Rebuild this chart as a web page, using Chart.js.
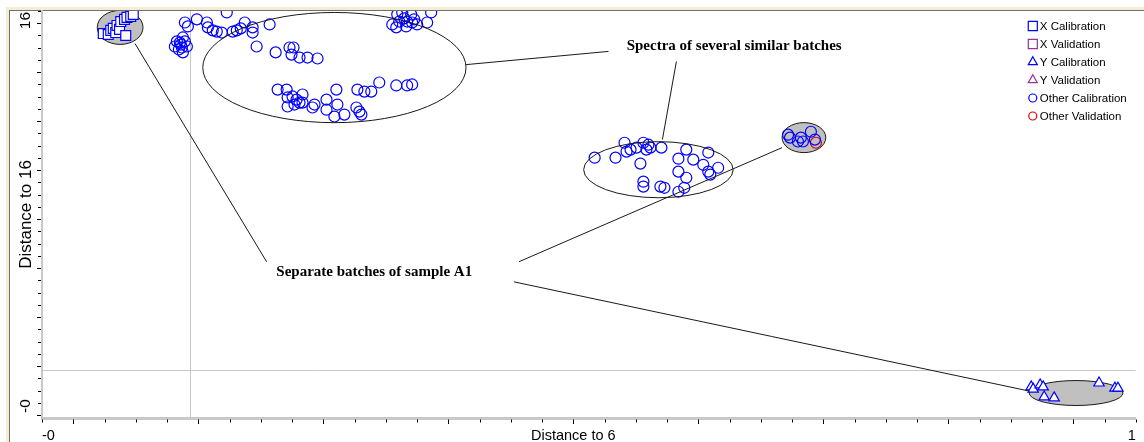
<!DOCTYPE html>
<html>
<head>
<meta charset="utf-8">
<style>
  html, body { margin: 0; padding: 0; background: #fff; overflow: hidden; }
  canvas { display: block; }
</style>
</head>
<body>
<canvas id="chart" width="1144" height="442"></canvas>
<script src="https://cdn.jsdelivr.net/npm/chart.js"></script>
<script>
// --- data ---
const xCalibration = [
  [0.024, 15.58], [0.028, 15.54], [0.030, 15.71], [0.032, 15.79], [0.034, 15.62],
  [0.035, 15.91], [0.037, 15.75], [0.038, 16.07], [0.041, 16.16], [0.043, 16.24],
  [0.046, 16.28], [0.048, 16.36], [0.042, 15.50]
];
const xValidation = [];
const yCalibration = [
  [0.7663, 1.15], [0.7679, 1.06], [0.7735, 1.23], [0.7759, 1.15], [0.7767, 0.74],
  [0.7847, 0.70], [0.8206, 1.31], [0.8333, 1.10], [0.8357, 1.10]
];
const yValidation = [];
const otherCalibration = [
  // left group near the limit line
  [0.0813, 15.05], [0.0829, 15.26], [0.0853, 15.21], [0.0877, 15.42], [0.0869, 15.01],
  [0.0909, 15.05], [0.0877, 14.81], [0.0893, 15.26], [0.0845, 14.93], [0.0861, 15.13],
  [0.0893, 16.03], [0.0917, 15.87], [0.0989, 16.16], [0.1069, 16.03], [0.1077, 15.83],
  [0.1116, 15.71], [0.1148, 15.66], [0.1188, 15.62], [0.1228, 16.44], [0.1276, 15.66],
  [0.1308, 15.71], [0.1340, 15.79], [0.1372, 16.03], [0.1435, 15.83], [0.1435, 15.62],
  [0.1467, 15.05], [0.1571, 15.95],
  // several similar batches
  [0.1619, 14.81], [0.1730, 15.01], [0.1746, 14.72], [0.1762, 15.01], [0.1810, 14.60],
  [0.1874, 14.60], [0.1954, 14.56],
  [0.1635, 13.29], [0.1707, 13.29], [0.1715, 12.97], [0.1754, 13.01], [0.1786, 12.88],
  [0.1834, 13.09], [0.1834, 12.76], [0.1715, 12.60], [0.1770, 12.68], [0.1810, 12.76],
  [0.1930, 12.68], [0.1914, 12.56], [0.2026, 12.88], [0.2026, 12.47], [0.2105, 13.29],
  [0.2113, 12.68], [0.2089, 12.19], [0.2169, 12.27], [0.2265, 12.56], [0.2289, 12.39],
  [0.2305, 12.27], [0.2273, 13.29], [0.2329, 13.21], [0.2384, 13.21], [0.2448, 13.58],
  [0.2584, 13.46], [0.2671, 13.46], [0.2711, 13.50],
  [0.2552, 15.95], [0.2584, 15.83], [0.2592, 16.36], [0.2632, 16.44], [0.2663, 15.87],
  [0.2703, 16.36], [0.2711, 16.03], [0.2751, 15.95], [0.2831, 16.03], [0.2863, 16.44],
  [0.2608, 16.07], [0.2671, 16.07], [0.2648, 16.20], [0.2727, 16.16],
  // middle group
  [0.4171, 10.51], [0.4338, 10.51], [0.4410, 11.12], [0.4426, 10.76], [0.4458, 10.84],
  [0.4506, 10.92], [0.4561, 11.12], [0.4601, 11.04], [0.4585, 10.84], [0.4617, 10.92],
  [0.4705, 10.92], [0.4537, 10.27], [0.4561, 9.53], [0.4561, 9.33], [0.4697, 9.33],
  [0.4729, 9.28], [0.4841, 10.47], [0.4841, 9.94], [0.4904, 10.84], [0.4904, 9.69],
  [0.4888, 9.28], [0.4841, 9.12], [0.4960, 10.43], [0.5040, 10.22], [0.5080, 10.72],
  [0.5096, 9.82], [0.5159, 10.10], [0.5080, 9.94],
  // small batch on the right
  [0.5718, 11.45], [0.5734, 11.33], [0.5797, 11.17], [0.5837, 11.17], [0.5821, 11.33],
  [0.5901, 11.57], [0.5933, 11.25]
];
const otherValidation = [[0.5941, 11.12]];

const seriesNames = ['X Calibration', 'X Validation', 'Y Calibration', 'Y Validation', 'Other Calibration', 'Other Validation'];

// axis ticks
const xMajorTicks = [0, 0.1, 0.2, 0.3, 0.4, 0.5, 0.6, 0.7, 0.8];
const xTickLabels = { '-0.025': '-0', '0.4': 'Distance to 6', '0.85': '1' };
const yMajorTicks = [0, 2, 4, 6, 8, 10, 12, 14, 16];
const yTickLabels = ['-0', '16'];
const yTitle = 'Distance to 16';

// annotations: ellipses [cx, cy, rx, ry, shaded], lines, texts
const ellipseShapes = [
  [0.0375, 15.83, 0.0183, 0.695, true],
  [0.2089, 14.19, 0.1053, 2.25, false],
  [0.4681, 10.02, 0.0598, 1.145, false],
  [0.5845, 11.33, 0.0175, 0.613, true],
  [0.8022, 0.90, 0.0375, 0.51, true]
];
const calloutLines = [
  [0.0494, 15.17, 0.1547, 6.26],
  [0.5670, 10.92, 0.3565, 6.26],
  [0.3525, 5.44, 0.7648, 0.98],
  [0.3142, 14.31, 0.4282, 14.85],
  [0.4825, 14.44, 0.4713, 11.25]
];
const calloutTexts = [
  ['Spectra of several similar batches', 0.5287, 15.05],
  ['Separate batches of sample A1', 0.2408, 5.85]
];
const limitX = 0.0933;
const limitY = 1.84;

const toPoints = arr => arr.map(p => ({ x: p[0], y: p[1] }));

const blue = '#0000ff';
const purple = '#993399';
const red = '#e00000';

const frame = {
  id: 'frame',
  beforeDraw(chart) {
    const c = chart.ctx, w = chart.width, h = chart.height;
    c.save();
    c.fillStyle = '#ffffff';
    c.fillRect(0, 0, w, h);
    c.fillStyle = '#f5ecd4';
    c.fillRect(6, 7, w - 6, h - 7);
    c.fillStyle = '#6f6f6f';
    c.fillRect(9, 10, w - 9, 1);
    c.fillRect(9, 10, 1, h - 10);
    c.fillStyle = '#ffffff';
    c.fillRect(10, 11, w - 10, h - 11);
    c.restore();
  }
};

function ellipsePath(chart, e) {
  const xs = chart.scales.x, ys = chart.scales.y;
  const cx = xs.getPixelForValue(e[0]), cy = ys.getPixelForValue(e[1]);
  const rx = Math.abs(xs.getPixelForValue(e[0] + e[2]) - cx);
  const ry = Math.abs(ys.getPixelForValue(e[1] + e[3]) - cy);
  chart.ctx.beginPath();
  chart.ctx.ellipse(cx, cy, rx, ry, 0, 0, Math.PI * 2);
}

const annotations = {
  id: 'annotations',
  beforeDatasetsDraw(chart) {
    const c = chart.ctx, a = chart.chartArea;
    const xs = chart.scales.x, ys = chart.scales.y;
    c.save();
    c.beginPath();
    c.rect(a.left, a.top, a.right - a.left, a.bottom - a.top);
    c.clip();
    // limit lines
    c.strokeStyle = '#c8c8c8';
    c.lineWidth = 1;
    const lx = Math.round(xs.getPixelForValue(limitX)) + 0.5;
    const ly = Math.round(ys.getPixelForValue(limitY)) + 0.5;
    c.beginPath();
    c.moveTo(lx, a.top); c.lineTo(lx, a.bottom);
    c.moveTo(a.left, ly); c.lineTo(a.right, ly);
    c.stroke();
    // shaded ellipses under the points
    ellipseShapes.filter(e => e[4]).forEach(e => {
      ellipsePath(chart, e);
      c.fillStyle = '#c0c0c0';
      c.fill();
      c.strokeStyle = '#1a1a1a';
      c.lineWidth = 1;
      c.stroke();
    });
    c.restore();
  },
  afterDatasetsDraw(chart) {
    const c = chart.ctx;
    const xs = chart.scales.x, ys = chart.scales.y;
    c.save();
    c.strokeStyle = '#1a1a1a';
    c.lineWidth = 1;
    ellipseShapes.filter(e => !e[4]).forEach(e => {
      ellipsePath(chart, e);
      c.stroke();
    });
    calloutLines.forEach(l => {
      c.beginPath();
      c.moveTo(xs.getPixelForValue(l[0]), ys.getPixelForValue(l[1]));
      c.lineTo(xs.getPixelForValue(l[2]), ys.getPixelForValue(l[3]));
      c.stroke();
    });
    c.fillStyle = '#000';
    c.font = 'bold 15px "Liberation Serif", "Times New Roman", serif';
    c.textAlign = 'center';
    c.textBaseline = 'middle';
    calloutTexts.forEach(t => {
      c.fillText(t[0], xs.getPixelForValue(t[1]), ys.getPixelForValue(t[2]));
    });
    c.restore();
  }
};

const axisExtras = {
  id: 'axisExtras',
  afterDraw(chart) {
    const c = chart.ctx, a = chart.chartArea;
    const xs = chart.scales.x, ys = chart.scales.y;
    c.save();
    // minor ticks
    c.strokeStyle = '#000';
    c.lineWidth = 1;
    c.beginPath();
    for (let v = xs.min; v <= xs.max + 1e-9; v += 0.025) {
      const px = Math.round(xs.getPixelForValue(v)) + 0.5;
      c.moveTo(px, a.bottom + 1.5);
      c.lineTo(px, a.bottom + 4.5);
    }
    for (let v = 0; v <= ys.max; v += 0.5) {
      const py = Math.round(ys.getPixelForValue(v)) + 0.5;
      c.moveTo(a.left - 1, py);
      c.lineTo(a.left - 4, py);
    }
    c.stroke();
    // rotated y labels
    c.fillStyle = '#000';
    c.textBaseline = 'middle';
    const lx = 26;
    c.translate(lx, 0);
    c.rotate(-Math.PI / 2);
    c.font = '15.5px "Liberation Sans", Arial, sans-serif';
    c.textAlign = 'left';
    c.fillText(yTickLabels[0], -(a.bottom - 5), 0);
    c.textAlign = 'right';
    c.fillText(yTickLabels[1], -(a.top + 1), 0);
    c.font = '17px "Liberation Sans", Arial, sans-serif';
    c.textAlign = 'center';
    c.fillText(yTitle, -(a.top + a.bottom) / 2, 0);
    c.restore();

    // legend
    c.save();
    c.font = '11.5px "Liberation Sans", Arial, sans-serif';
    c.textBaseline = 'middle';
    c.textAlign = 'left';
    chart.data.datasets.forEach((ds, i) => {
      const y = a.top + 15 + i * 18;
      const x = a.right - 103;
      const r = ds.pointStyle === 'rect' ? 6.4 : ds.pointStyle === 'triangle' ? 5.2 : 4;
      c.strokeStyle = ds.borderColor;
      c.fillStyle = ds.pointStyle === 'circle' ? 'rgba(0,0,0,0)' : '#ffffff';
      c.lineWidth = 1.2;
      Chart.helpers.drawPoint(c, { pointStyle: ds.pointStyle, radius: r, rotation: 0, borderWidth: 1.2 }, x, y);
      c.fillStyle = '#000';
      c.fillText(ds.label, x + 7, y + 0.5);
    });
    c.restore();
  }
};

const markerSet = (name, data, style, color, radius, fill) => ({
  label: name,
  data: toPoints(data),
  pointStyle: style,
  pointRadius: radius,
  pointHoverRadius: radius,
  borderColor: color,
  backgroundColor: fill,
  pointBorderWidth: 1.2,
  borderWidth: 1.2,
  showLine: false,
  clip: 0
});

new Chart(document.getElementById('chart'), {
  type: 'scatter',
  data: {
    datasets: [
      markerSet(seriesNames[0], xCalibration, 'rect', blue, 7, '#ffffff'),
      markerSet(seriesNames[1], xValidation, 'rect', purple, 7, '#ffffff'),
      markerSet(seriesNames[2], yCalibration, 'triangle', blue, 6, '#ffffff'),
      markerSet(seriesNames[3], yValidation, 'triangle', purple, 6, '#ffffff'),
      markerSet(seriesNames[4], otherCalibration, 'circle', blue, 5.5, 'rgba(0,0,0,0)'),
      markerSet(seriesNames[5], otherValidation, 'circle', red, 5.5, 'rgba(0,0,0,0)')
    ]
  },
  options: {
    responsive: false,
    animation: false,
    devicePixelRatio: 1,
    layout: { padding: { left: 37, right: 5, top: 11, bottom: 0 } },
    plugins: {
      legend: { display: false },
      tooltip: { enabled: false }
    },
    scales: {
      x: {
        type: 'linear',
        min: -0.025,
        max: 0.85,
        afterBuildTicks: s => {
          s.ticks = [-0.025].concat(xMajorTicks, [0.85]).map(v => ({ value: v }));
        },
        afterFit: s => { s.height = 24; },
        grid: {
          drawOnChartArea: false,
          drawTicks: true,
          tickLength: 6,
          tickWidth: 1,
          tickColor: ctx => (ctx.tick && xMajorTicks.includes(ctx.tick.value)) ? '#000' : 'rgba(0,0,0,0)'
        },
        border: { color: '#c8c8c8', width: 3 },
        ticks: {
          autoSkip: false,
          maxRotation: 0,
          minRotation: 0,
          align: 'inner',
          padding: 3,
          color: '#000',
          font: { family: '"Liberation Sans", Arial, sans-serif', size: 14.5 },
          callback: v => xTickLabels[String(v)] || ''
        }
      },
      y: {
        type: 'linear',
        min: -0.12,
        max: 16.5,
        afterBuildTicks: s => {
          s.ticks = yMajorTicks.map(v => ({ value: v }));
        },
        afterFit: s => { s.width = 5; },
        grid: {
          drawOnChartArea: false,
          drawTicks: true,
          tickLength: 5,
          tickWidth: 1,
          tickColor: '#000'
        },
        border: { color: '#c8c8c8', width: 2 },
        ticks: { display: false }
      }
    }
  },
  plugins: [frame, annotations, axisExtras]
});
</script>
</body>
</html>
